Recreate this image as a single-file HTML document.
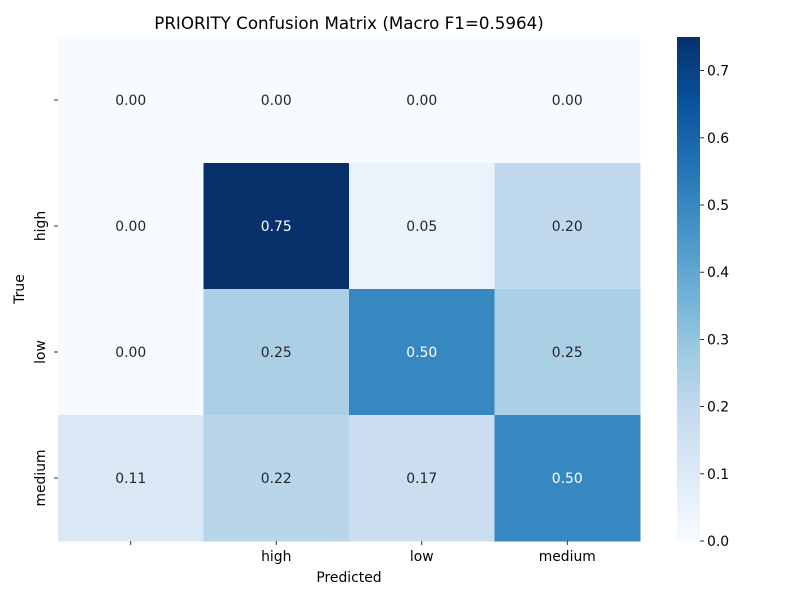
<!DOCTYPE html>
<html><head><meta charset="utf-8"><style>
body{margin:0;background:#fff;}
svg text{font-family:"DejaVu Sans","Liberation Sans",sans-serif;}
</style></head><body>
<svg id="chart" width="800" height="600" xmlns="http://www.w3.org/2000/svg">
<defs><linearGradient id="cbg" x1="0" y1="1" x2="0" y2="0">
<stop offset="0" stop-color="#f7fbff"/><stop offset="0.125" stop-color="#deebf7"/><stop offset="0.25" stop-color="#c6dbef"/><stop offset="0.375" stop-color="#9ecae1"/><stop offset="0.5" stop-color="#6baed6"/><stop offset="0.625" stop-color="#4292c6"/><stop offset="0.75" stop-color="#2171b5"/><stop offset="0.875" stop-color="#08519c"/><stop offset="1" stop-color="#08306b"/>
</linearGradient></defs>
<text x="349" y="29" font-size="16.7" text-anchor="middle">PRIORITY Confusion Matrix (Macro F1=0.5964)</text>
<g id="cells"></g>
<g id="axes"></g>
<text x="349" y="582" font-size="13.9" text-anchor="middle">Predicted</text>
<text x="24" y="289" font-size="13.9" text-anchor="middle" transform="rotate(-90 24 289)">True</text>
<rect x="677" y="37" width="23" height="504" fill="url(#cbg)"/>
<g id="cbticks"></g>
</svg>
<script>
const rowLabels = ["", "high", "low", "medium"];
const colLabels = ["", "high", "low", "medium"];
const values = [
  [0.00, 0.00, 0.00, 0.00],
  [0.00, 0.75, 0.05, 0.20],
  [0.00, 0.25, 0.50, 0.25],
  [0.11, 0.22, 0.17, 0.50]
];
const cbTicks = [0.0, 0.1, 0.2, 0.3, 0.4, 0.5, 0.6, 0.7];
const vmin = 0, vmax = 0.75;

const NS = "http://www.w3.org/2000/svg";
const X0 = 58, X1 = 640, Y0 = 37, Y1 = 541;
const cw = (X1 - X0) / colLabels.length, ch = (Y1 - Y0) / rowLabels.length;
const xPos = i => X0 + i * cw;
const yPos = j => Y0 + j * ch;
const stops = ["#f7fbff","#deebf7","#c6dbef","#9ecae1","#6baed6","#4292c6","#2171b5","#08519c","#08306b"];
function hex(h){return [1,3,5].map(k=>parseInt(h.substr(k,2),16));}
function cmap(v){
  let t = Math.max(0, Math.min(1, (v - vmin) / (vmax - vmin))) * (stops.length - 1);
  let i = Math.min(Math.floor(t), stops.length - 2), f = t - i;
  const a = hex(stops[i]), b = hex(stops[i+1]);
  return "rgb(" + a.map((c,k)=>Math.round(c + (b[k]-c)*f)).join(",") + ")";
}
function mk(tag, attrs, parent, txt){
  const e = document.createElementNS(NS, tag);
  for (const k in attrs) e.setAttribute(k, attrs[k]);
  if (txt !== undefined) e.textContent = txt;
  parent.appendChild(e); return e;
}
const cells = document.getElementById("cells");
values.forEach((row, j) => row.forEach((v, i) => {
  const r = mk("rect", {x: xPos(i), y: yPos(j), width: cw + 0.5, height: ch + 0.5, fill: cmap(v)}, cells);
  
  
  const t = mk("text", {x: xPos(i) + cw/2, y: yPos(j) + ch/2 + 5, "font-size": 13.9, "text-anchor": "middle",
    fill: v > vmax * 0.6 ? "#fff" : "#262626"}, cells, v.toFixed(2));
  
  
}));
const axes = document.getElementById("axes");
colLabels.forEach((l, i) => {
  const x = xPos(i) + cw/2;
  mk("line", {x1: x, x2: x, y1: Y1, y2: Y1 + 4, stroke: "#000", "stroke-width": 0.8}, axes);
  const t = mk("text", {x: x, y: Y1 + 20, "font-size": 13.9, "text-anchor": "middle"}, axes, l);
  
  
});
rowLabels.forEach((l, j) => {
  const y = yPos(j) + ch/2;
  mk("line", {x1: X0 - 4, x2: X0, y1: y, y2: y, stroke: "#000", "stroke-width": 0.8}, axes);
  const t = mk("text", {x: X0 - 13, y: y, "font-size": 13.9, "text-anchor": "middle", transform: "rotate(-90 " + (X0-13) + " " + y + ")"}, axes, l);
  
  
});
const cbt = document.getElementById("cbticks");
cbTicks.forEach(v => {
  const y = Y1 - (v - vmin) / (vmax - vmin) * (Y1 - Y0);
  mk("line", {x1: 700, x2: 704, y1: y, y2: y, stroke: "#000", "stroke-width": 0.8}, cbt);
  const t = mk("text", {x: 707, y: y + 5, "font-size": 13.9}, cbt, v.toFixed(1));
  
  
});
</script>
</body></html>
